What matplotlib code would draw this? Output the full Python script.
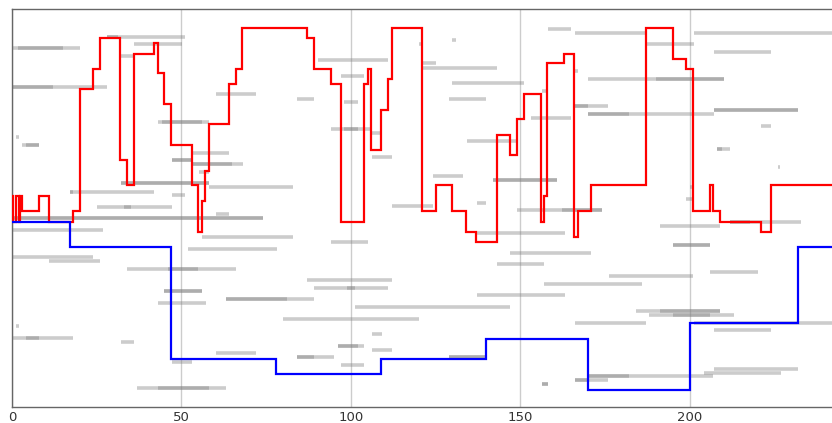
import matplotlib
matplotlib.use("Agg")
import matplotlib.pyplot as plt

# step series (edges on x, one value per interval)
red_edges = [0, 0.3, 1.1, 2.2, 2.5, 3, 8, 11, 18, 20, 24, 26, 32, 34, 36, 42, 43, 45, 47, 53,
             55, 56, 57, 58, 64, 66, 68, 87, 89, 94, 97, 104, 105, 106, 109, 111, 112, 121, 125, 130,
             134, 137, 143, 147, 149, 151, 156, 157, 158, 163, 166, 167, 171, 187, 195, 199, 201, 206, 207, 209,
             221, 224, 242]
red_vals = [53.0, 46.6, 53.0, 46.6, 53.0, 49.2, 53.0, 46.6, 49.2, 79.9,
            85.0, 92.7, 62.1, 55.7, 88.8, 91.5, 83.9, 76.1, 65.8, 55.7,
            44.0, 51.8, 59.3, 71.0, 81.2, 85.0, 95.2, 92.7, 85.0, 81.2,
            46.6, 81.2, 85.0, 64.6, 74.7, 82.5, 95.2, 49.2, 55.7, 49.2,
            44.0, 41.5, 68.4, 63.3, 72.3, 78.6, 46.6, 53.0, 86.4, 88.8,
            42.8, 49.2, 55.7, 95.2, 87.5, 85.0, 49.2, 55.7, 49.2, 46.6,
            44.0, 55.7]

blue_edges = [0, 17, 47, 78, 109, 140, 170, 200, 232, 242]
blue_vals = [46.6, 40.2, 12.0, 8.2, 12.0, 17.1, 4.3, 21.0, 40.1]

# gray interval segments: start, end, level
seg_x0 = [0, 1.8, 28.0, 28.0, 36.0, 32.2, 0, 0, 60.2, 43.1, 44.2, 1.2, 2.9, 4.1, 53.4, 47.2, 47.2,
          53.4, 53.4, 55.2, 32.2, 32.2, 58.1, 17.1, 17.1, 47.2, 25.1, 33.0, 60.2, 0, 0, 0, 56.0,
          51.9, 0, 10.9, 33.9, 46.0, 44.8, 44.8, 63.1, 63.1, 43.1, 1.2, 0, 4.1, 32.2, 60.2, 47.2,
          36.9, 43.1,
          90.2, 97.1, 84.0, 97.9, 94.0, 97.9, 106.1, 106.1, 112.0, 120.1, 130.0, 121.2, 121.2, 130.0,
          128.9, 134.2, 124.1, 142.0, 142.0, 137.1, 149.1, 162.2,
          158.1, 166.1, 201.2, 187.0, 207.1, 166.1, 170.0, 190.0, 156.3, 166.1, 166.1, 170.0, 170.0,
          207.1, 207.1, 153.1, 221.1, 208.1, 208.1, 226.1, 200.2, 199.0,
          94.0, 137.2, 147.1, 143.2, 87.1, 89.1, 99.0, 157.0, 137.2, 101.1, 80.0, 106.1, 96.2, 96.2,
          106.1, 84.0, 84.0, 129.0, 129.0, 97.1, 156.3, 156.3,
          191.2, 195.1, 195.1, 206.1, 176.1, 166.1, 201.2, 184.2, 191.2, 188.1, 195.0, 207.1, 207.1,
          204.1, 170.1, 170.1, 166.1, 166.1, 212.0, 212.0]
seg_x1 = [20.1, 15.0, 51.0, 31.3, 50.1, 35.7, 28.0, 12.1, 72.0, 58.1, 56.0, 2.1, 8.0, 8.0, 64.0, 52.8, 52.8,
          68.1, 64.9, 58.1, 58.1, 58.1, 82.9, 41.9, 18.0, 51.0, 47.2, 35.1, 64.0, 74.0, 74.0, 26.8, 82.9,
          78.2, 23.9, 26.0, 66.1, 54.9, 56.0, 56.0, 89.1, 81.1, 57.2, 2.1, 18.0, 8.0, 36.0, 72.0, 53.1,
          63.1, 58.1,
          111.0, 103.8, 89.1, 102.0, 106.1, 102.0, 109.1, 112.0, 124.1, 121.2, 131.0, 125.1, 143.2, 151.0,
          140.0, 149.1, 133.1, 160.9, 160.9, 140.0, 174.0, 174.0,
          165.1, 187.0, 242.0, 201.2, 224.1, 167.0, 210.1, 210.1, 158.2, 176.0, 169.9, 207.1, 182.0,
          232.1, 232.1, 165.1, 224.1, 212.0, 209.4, 226.7, 201.2, 201.0,
          105.1, 163.1, 171.0, 156.9, 112.0, 111.0, 101.2, 186.0, 163.1, 147.1, 120.1, 109.1, 104.0, 102.1,
          112.0, 95.1, 89.1, 140.0, 140.0, 103.9, 158.2, 158.2,
          208.9, 206.0, 206.0, 220.1, 201.1, 187.0, 242.0, 208.9, 208.9, 213.0, 205.9, 224.0, 232.1,
          226.9, 207.0, 182.0, 176.0, 169.9, 232.9, 217.9]
seg_y = [90.1, 90.1, 93.0, 93.0, 91.1, 88.2, 80.4, 80.4, 78.6, 71.7, 71.7, 67.9, 65.8, 65.8, 63.9, 62.0, 62.0,
         61.1, 61.1, 59.0, 56.2, 56.2, 55.2, 54.1, 54.1, 53.3, 50.3, 50.3, 48.4, 47.4, 47.4, 44.5, 42.6,
         39.7, 37.8, 36.8, 34.7, 34.7, 29.1, 29.1, 27.1, 27.1, 26.1, 20.4, 17.4, 17.4, 16.4, 13.5, 11.4,
         4.7, 4.7,
         87.2, 83.2, 77.5, 76.6, 69.8, 69.8, 68.8, 62.9, 50.4, 91.1, 92.2, 86.4, 85.3, 81.4,
         77.5, 66.8, 58.1, 57.1, 57.1, 51.3, 49.4, 49.4,
         95.0, 94.0, 94.0, 91.1, 89.1, 84.3, 82.3, 82.3, 79.5, 75.6, 75.6, 73.5, 73.5,
         74.6, 74.6, 72.7, 70.7, 64.8, 64.8, 60.2, 55.2, 52.3,
         41.5, 43.6, 38.8, 35.9, 31.9, 30.0, 30.0, 31.0, 28.1, 25.1, 22.2, 18.3, 15.3, 15.3,
         14.4, 12.6, 12.6, 12.6, 12.6, 10.6, 5.7, 5.7,
         45.6, 40.7, 40.7, 33.8, 32.8, 21.2, 21.2, 24.1, 24.1, 23.1, 23.1, 19.3, 9.6,
         8.6, 7.7, 7.7, 6.7, 6.7, 46.4, 46.4]

xticks = [0, 50, 100, 150, 200]

fig = plt.figure(figsize=(8.32, 4.23), dpi=100)
ax = fig.add_axes([12 / 832, 16 / 423, 820 / 832, 398 / 423])

ax.hlines(seg_y, seg_x0, seg_x1, colors="gray", alpha=0.4, lw=2.6, capstyle="butt", zorder=2)
ax.stairs(red_vals, red_edges, baseline=None, color="red", lw=1.6, zorder=3)
ax.stairs(blue_vals, blue_edges, baseline=None, color="blue", lw=1.6, zorder=4)

ax.set_xlim(0, 242)
ax.set_ylim(0, 100)
ax.set_xticks(xticks)
ax.set_yticks([])
ax.tick_params(axis="x", length=0, pad=3, labelsize=9.5, colors="#333333")
ax.grid(axis="x", color="#cccccc", lw=1.0, zorder=0)
ax.set_axisbelow(True)
for s in ["left", "bottom", "top"]:
    ax.spines[s].set_color("#666666")
    ax.spines[s].set_linewidth(1.0)
ax.spines["right"].set_visible(False)

fig.savefig("out.png", dpi=100)
